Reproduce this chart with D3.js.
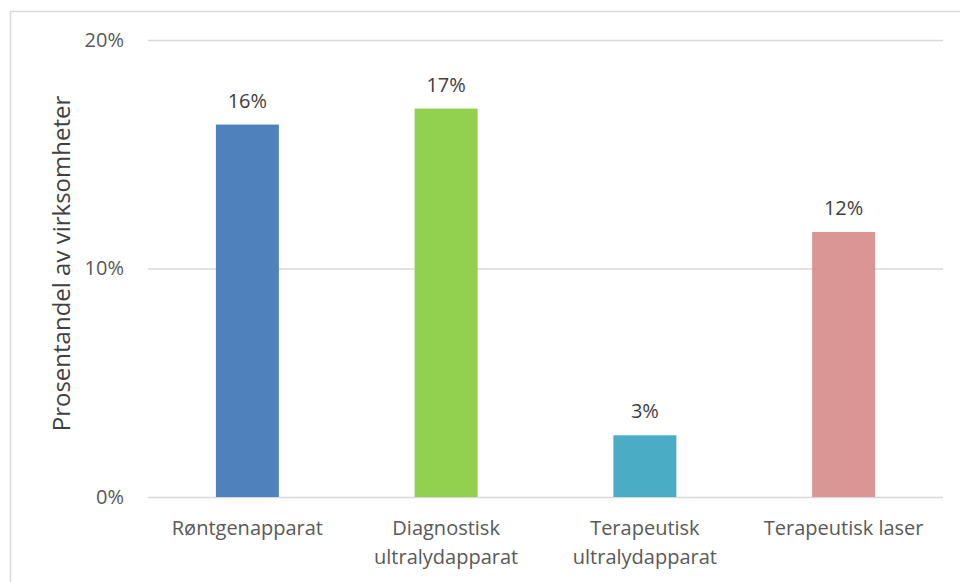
<!DOCTYPE html>
<html>
<head>
<meta charset="utf-8">
<script src="https://cdn.jsdelivr.net/npm/d3@7"></script>
<style>
  html, body { margin: 0; padding: 0; background: #fff; }
  svg { display: block; font-family: "Open Sans", sans-serif; }
</style>
</head>
<body>
<svg id="chart" width="960" height="582"></svg>
<script>
// Andel virksomheter som bruker hver type utstyr
const categories = [
  ["Røntgenapparat"],
  ["Diagnostisk", "ultralydapparat"],
  ["Terapeutisk", "ultralydapparat"],
  ["Terapeutisk laser"]
];
const shares = [0.163, 0.170, 0.027, 0.116];
const barColors = ["#4f81bd", "#92d050", "#4bacc6", "#d99694"];
const yTicks = [0, 0.1, 0.2];
const yTitle = "Prosentandel av virksomheter";

const svg = d3.select("#chart");
const margin = { left: 148, right: 17, top: 40, bottom: 85 };
const W = 960, H = 582;
const FONT = "'Open Sans', sans-serif";

// chart frame
svg.append("rect")
  .attr("x", 10.5).attr("y", 11.5)
  .attr("width", 960).attr("height", 600)
  .attr("fill", "#fff").attr("stroke", "#d9d9d9").attr("stroke-width", 1.5);

const x = d3.scaleBand()
  .domain(d3.range(categories.length))
  .range([margin.left, W - margin.right])
  .paddingInner(0.683).paddingOuter(0.3415);

const y = d3.scaleLinear()
  .domain([0, 0.2])
  .range([H - margin.bottom, margin.top]);

const pct = d3.format(".0%");

// gridlines and tick labels
const yAxis = d3.axisLeft(y)
  .tickValues(yTicks)
  .tickFormat(pct)
  .tickSize(-(W - margin.right - margin.left))
  .tickPadding(24);

const gy = svg.append("g")
  .attr("transform", `translate(${margin.left},0)`)
  .call(yAxis);
gy.select(".domain").remove();
gy.selectAll(".tick line").attr("stroke", "#d9d9d9").attr("stroke-width", 1.5);
gy.selectAll(".tick text")
  .attr("fill", "#595959")
  .style("font-size", "20px")
  .style("font-family", FONT);

// bars
svg.append("g").selectAll("rect")
  .data(shares)
  .join("rect")
  .attr("x", (d, i) => x(i))
  .attr("y", d => y(d))
  .attr("width", x.bandwidth())
  .attr("height", d => y(0) - y(d))
  .attr("fill", (d, i) => barColors[i]);

// value labels
svg.append("g").selectAll("text")
  .data(shares)
  .join("text")
  .attr("x", (d, i) => x(i) + x.bandwidth() / 2)
  .attr("y", d => y(d) - 17)
  .attr("text-anchor", "middle")
  .attr("fill", "#404040")
  .style("font-size", "20px")
  .text(d => pct(d));

// category labels
const gx = svg.append("g");
categories.forEach((lines, i) => {
  const cx = x(i) + x.bandwidth() / 2;
  const t = gx.append("text")
    .attr("x", cx)
    .attr("y", H - margin.bottom + 38)
    .attr("text-anchor", "middle")
    .attr("fill", "#595959")
    .style("font-size", "20px");
  lines.forEach((s, k) => {
    t.append("tspan")
      .attr("x", cx)
      .attr("dy", k === 0 ? 0 : 29)
      .text(s);
  });
});

// y axis title
svg.append("text")
  .attr("transform", `translate(70,${(margin.top + H - margin.bottom) / 2 - 5}) rotate(-90)`)
  .attr("text-anchor", "middle")
  .attr("fill", "#404040")
  .style("font-size", "24px")
  .text(yTitle);
</script>
</body>
</html>
